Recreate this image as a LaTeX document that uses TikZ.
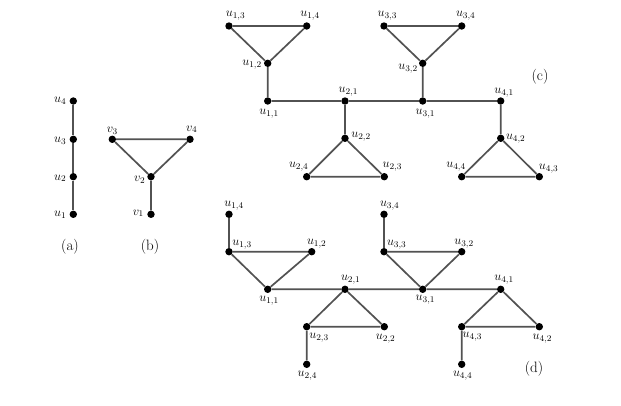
\RequirePackage{fix-cm}
\documentclass[tikz,border=0pt]{standalone}
\begin{document}
\begin{tikzpicture}[x=1pt,y=-1pt,
  dot/.style={circle,fill=black,inner sep=0pt,minimum size=7.4pt},
  lbl/.style={inner sep=0pt,font=\fontsize{12.5}{15}\selectfont},
  captxt/.style={inner sep=0pt,font=\fontsize{15}{18}\selectfont},
  edge/.style={line width=1.7pt,draw=black!68}]
\useasboundingbox[fill=white] (0,0) rectangle (621,406);
\newcommand\vtx[5]{\node[dot,label={[lbl,xshift=#4pt,yshift=#5pt]center:$#3$}] (#1) at (#2) {};}
% (a)
\vtx{a4}{73.3,101}{u_4}{-13}{0}
\vtx{a3}{73.3,139.3}{u_3}{-13}{-1.3}
\vtx{a2}{73.3,176.7}{u_2}{-13}{-1.6}
\vtx{a1}{73.3,214.3}{u_1}{-13}{-0.7}
\draw[edge] (a1)--(a2) (a2)--(a3) (a3)--(a4);
\node[captxt] (capa) at (70,246.7) {(a)};
% (b)
\vtx{b3}{112.3,139.3}{v_3}{0}{8.7}
\vtx{b4}{190,139.3}{v_4}{1.7}{10}
\vtx{b2}{151,176.7}{v_2}{-11.3}{-3.3}
\vtx{b1}{151,214.3}{v_1}{-12.7}{1}
\draw[edge] (b3)--(b4) (b3)--(b2) (b4)--(b2) (b2)--(b1);
\node[captxt] (capb) at (150,246.7) {(b)};
% (c)
\vtx{c13}{229,26}{u_{1,3}}{6.5}{10}
\vtx{c14}{306.7,26}{u_{1,4}}{3.3}{10}
\vtx{c12}{267.7,63.3}{u_{1,2}}{-15.7}{-1}
\vtx{c11}{267.7,101}{u_{1,1}}{1.3}{-12.3}
\vtx{c21}{345,101}{u_{2,1}}{3.3}{9.7}
\vtx{c22}{345,138.3}{u_{2,2}}{16}{1.7}
\vtx{c24}{306.7,176.7}{u_{2,4}}{-8}{10}
\vtx{c23}{384.3,176.7}{u_{2,3}}{8}{10}
\vtx{c33}{384,26}{u_{3,3}}{3.3}{10}
\vtx{c34}{461.7,26}{u_{3,4}}{4}{10}
\vtx{c32}{422.7,63.3}{u_{3,2}}{-14.7}{-5.7}
\vtx{c31}{422.7,101}{u_{3,1}}{2.7}{-12.7}
\vtx{c41}{500.7,101}{u_{4,1}}{3.3}{8.7}
\vtx{c42}{500.7,138.3}{u_{4,2}}{15}{0}
\vtx{c44}{461.7,176.7}{u_{4,4}}{-5.7}{10}
\vtx{c43}{539.3,176.7}{u_{4,3}}{9.3}{8.3}
\draw[edge] (c13)--(c14) (c13)--(c12) (c14)--(c12) (c12)--(c11)
  (c11)--(c21) (c21)--(c31) (c31)--(c41)
  (c21)--(c22) (c22)--(c24) (c22)--(c23) (c24)--(c23)
  (c33)--(c34) (c33)--(c32) (c34)--(c32) (c32)--(c31)
  (c41)--(c42) (c42)--(c44) (c42)--(c43) (c44)--(c43);
\node[captxt] (capc) at (540,76.7) {(c)};
% (d)
\vtx{d14}{229,214.3}{u_{1,4}}{5}{9}
\vtx{d13}{229,251.7}{u_{1,3}}{13}{6.7}
\vtx{d12}{311.7,251.7}{u_{1,2}}{5}{8}
\vtx{d11}{267.7,289.3}{u_{1,1}}{1.3}{-11}
\vtx{d21}{345,289.3}{u_{2,1}}{5.7}{9.3}
\vtx{d23}{306.7,326.7}{u_{2,3}}{12.3}{-11.3}
\vtx{d22}{384.3,326.7}{u_{2,2}}{1.3}{-12}
\vtx{d24}{306.7,364.3}{u_{2,4}}{0.7}{-11.3}
\vtx{d34}{384,214.3}{u_{3,4}}{5.7}{9}
\vtx{d33}{384,251.7}{u_{3,3}}{12.7}{6.7}
\vtx{d32}{461.7,251.7}{u_{3,2}}{2.3}{8}
\vtx{d31}{422.7,289.3}{u_{3,1}}{2.7}{-10.7}
\vtx{d41}{500.7,289.3}{u_{4,1}}{3.3}{9.3}
\vtx{d43}{461.7,326.7}{u_{4,3}}{10.7}{-10}
\vtx{d42}{539.3,326.7}{u_{4,2}}{3}{-12}
\vtx{d44}{461.7,364.3}{u_{4,4}}{1}{-11.3}
\draw[edge] (d14)--(d13) (d13)--(d12) (d13)--(d11) (d12)--(d11)
  (d11)--(d21) (d21)--(d31) (d31)--(d41)
  (d21)--(d23) (d21)--(d22) (d23)--(d22) (d23)--(d24)
  (d34)--(d33) (d33)--(d32) (d33)--(d31) (d32)--(d31)
  (d41)--(d43) (d41)--(d42) (d43)--(d42) (d43)--(d44);
\node[captxt] (capd) at (534,369) {(d)};
\end{tikzpicture}
\end{document}
